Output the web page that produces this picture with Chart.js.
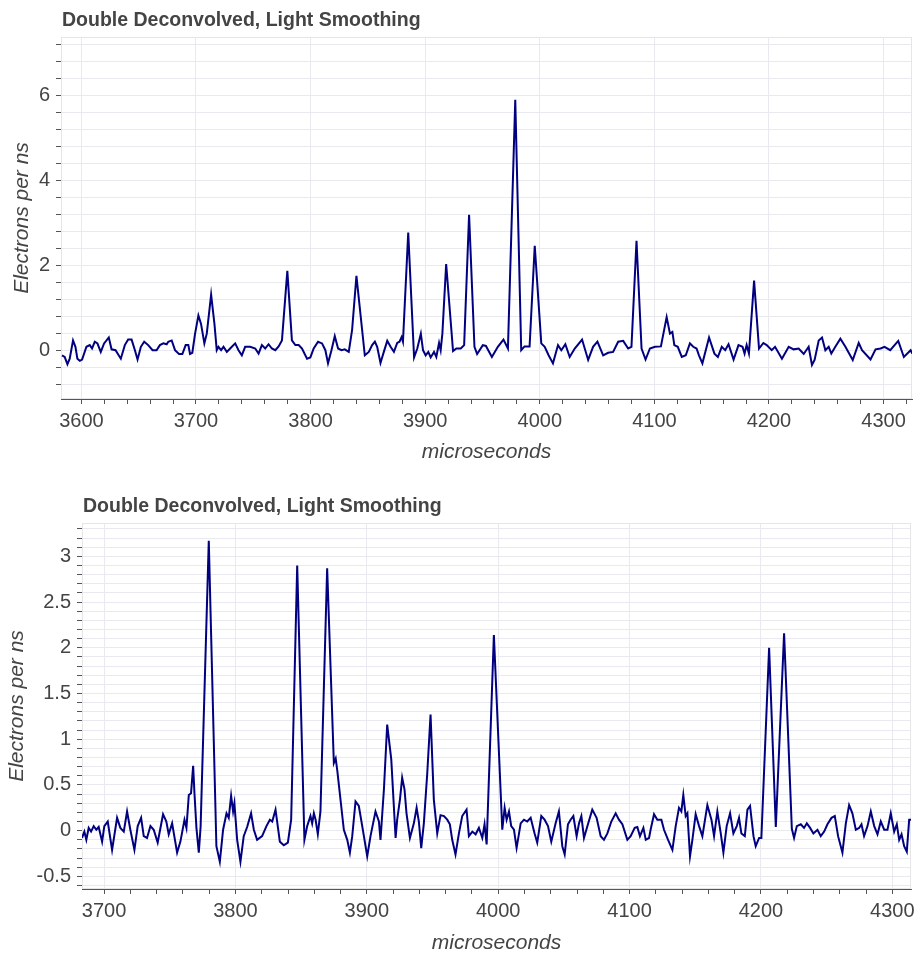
<!DOCTYPE html>
<html>
<head>
<meta charset="utf-8">
<script src="https://cdn.jsdelivr.net/npm/chart.js@4.4.1/dist/chart.umd.min.js"></script>
<style>
  html, body { margin: 0; padding: 0; background: #ffffff; }
  #c1 { position: absolute; left: 0; top: 0; }
  #c2 { position: absolute; left: 0; top: 480px; }
</style>
</head>
<body>
<canvas id="c1" width="923" height="470"></canvas>
<canvas id="c2" width="923" height="479"></canvas>
<script>
// ---------------- data ----------------
const chartTitle = "Double Deconvolved, Light Smoothing";
const xAxisTitle = "microseconds";
const yAxisTitle = "Electrons per ns";

// top panel: [microseconds, electrons per ns]
const topSeries = [
  [3583.1,-0.12],[3585.4,-0.16],[3587.8,-0.33],[3589.8,-0.2],[3592.7,0.23],[3594.8,0.08],[3596.5,-0.2],[3598.6,-0.25],
  [3600.6,-0.22],[3604.4,0.08],[3607.3,0.12],[3609.3,0.04],[3611.7,0.2],[3614,0.16],[3616.9,-0.04],[3619.8,0.16],
  [3623.9,0.3],[3626.3,0.02],[3629.8,0],[3634.4,-0.2],[3637.9,0.12],[3640.8,0.25],[3643.8,0.25],[3646.7,0],
  [3649,-0.22],[3651.9,0.08],[3654.8,0.2],[3658.3,0.12],[3662.1,0],[3665.6,0],[3668.5,0.12],[3671.5,0.16],
  [3674.4,0.14],[3675.8,0.2],[3678.8,0.23],[3681.7,0],[3685.2,-0.09],[3688.1,-0.09],[3691,0.12],[3693.3,0.12],
  [3694.8,-0.09],[3696.8,-0.06],[3699.2,0.39],[3702.1,0.82],[3704.4,0.62],[3707.3,0.16],[3709.4,0.39],[3713.2,1.31],
  [3716.1,0.62],[3718.1,0],[3719.6,0.08],[3721.9,0],[3724,0.08],[3726.9,-0.04],[3729.8,0.04],[3734.2,0.16],
  [3737.1,0],[3740,-0.12],[3742.9,0.08],[3747.3,0.08],[3751.7,0.04],[3754.6,-0.08],[3757.5,0.12],[3760.4,0.04],
  [3763.3,0.14],[3766.2,0.04],[3769.2,0],[3772.1,0.09],[3775,0.23],[3779.7,1.87],[3783.7,0.23],[3786.7,0.12],
  [3789.6,0.12],[3792.5,0.04],[3796.9,-0.2],[3799.8,-0.17],[3802.7,0.04],[3806.5,0.2],[3810,0.16],[3812.9,0],
  [3815.2,-0.31],[3818.2,0],[3821.1,0.33],[3824,0.04],[3826.9,0],[3829.8,0.02],[3833.3,-0.04],[3836.2,0.47],
  [3840,1.75],[3845,0.47],[3847.3,-0.12],[3850.8,-0.04],[3853.7,0.12],[3856.1,0.2],[3858.1,0.08],[3861,-0.3],
  [3863.9,-0.04],[3866.9,0.22],[3869.8,0.08],[3872.7,-0.04],[3875.6,0.17],[3877.6,0.2],[3879.4,0.31],[3880.6,0.2],
  [3885.2,2.77],[3890.3,-0.17],[3893.1,0.04],[3896.2,0.39],[3898.1,0],[3900.4,-0.12],[3902.7,-0.04],[3904.8,-0.17],
  [3907.7,-0.04],[3909.7,-0.16],[3912.1,0.17],[3913.5,0],[3915,0.39],[3918.3,2.03],[3924.3,-0.02],[3927.2,0.04],
  [3931,0.04],[3934,0.12],[3938.3,3.19],[3943,0.08],[3945.3,-0.09],[3950.3,0.12],[3953,0.1],[3958.2,-0.16],
  [3963.4,0.08],[3968.3,0.25],[3972.2,0.04],[3978.6,5.9],[3983.8,0],[3986.7,0.09],[3991.1,0.09],[3995.6,2.46],
  [4001.3,0.16],[4004.3,0.08],[4007.7,-0.12],[4011.5,-0.31],[4015.9,0.12],[4018.8,0],[4022.3,0.14],[4026.1,-0.16],
  [4030.5,0.04],[4036.9,0.25],[4042.2,-0.23],[4046.5,0.08],[4050.3,0.2],[4055.3,-0.12],[4059.6,-0.06],[4064,-0.04],
  [4068.4,0.2],[4072.8,0.22],[4077.1,0.04],[4080,0.08],[4084.4,2.58],[4088.8,0.04],[4092.3,-0.22],[4096.1,0.04],
  [4100.5,0.08],[4105.7,0.09],[4110.7,0.78],[4113.6,0.39],[4115.7,0.43],[4117.4,0.12],[4120.4,0.08],[4123.9,-0.16],
  [4127.4,-0.12],[4131,0.16],[4133.9,0.08],[4136.8,0.04],[4138.9,-0.12],[4141.9,-0.31],[4147.7,0.3],[4152.4,-0.08],
  [4155.4,-0.16],[4158.8,0.08],[4161.8,0],[4164.7,0.14],[4169.1,-0.22],[4173.4,0.12],[4176.9,0.08],[4178.7,-0.08],
  [4180.5,0.12],[4182.5,-0.08],[4187,1.64],[4191.3,0.04],[4195.1,0.17],[4198,0.12],[4202.4,0],[4205.3,0.08],
  [4211.3,-0.2],[4217.2,0.08],[4221.5,0.02],[4225.9,0.04],[4230.3,-0.09],[4234.6,0.08],[4237.5,-0.35],[4239.8,-0.23],
  [4243.4,0.23],[4246.3,0.3],[4249.2,0],[4252.1,0.08],[4254.4,-0.08],[4257.9,0.08],[4262.3,0.27],[4266.7,0.08],
  [4273.1,-0.23],[4278.3,0.17],[4281.2,0],[4288.6,-0.22],[4293,0.02],[4297.4,0.04],[4300.8,0.08],[4305.8,0],
  [4312.8,0.22],[4317.7,-0.16],[4323.6,0],[4325,-0.08]
];

// bottom panel: [microseconds, electrons per ns]
const bottomSeries = [
  [3683.2,-0.08],[3685,-0.01],[3686.5,-0.1],[3688.3,0.03],[3690.1,-0.01],[3692.1,0.05],[3694.1,0.01],[3695.9,0.04],
  [3698.5,-0.12],[3700.2,0.05],[3702.8,0.1],[3706.1,-0.21],[3709.9,0.14],[3712.4,0.03],[3715,-0.01],[3717.5,0.21],
  [3720,0.01],[3723.1,-0.21],[3725.6,0.05],[3728.2,0.14],[3730.2,-0.06],[3732.7,-0.08],[3735.3,0.05],[3737.8,0.01],
  [3740.8,-0.13],[3744.9,0.18],[3747.4,0.1],[3749.2,-0.04],[3751.8,0.08],[3755.6,-0.24],[3758.1,-0.12],[3761.2,0.12],
  [3762.7,0.03],[3764.5,0.39],[3766.2,0.41],[3767.8,0.71],[3768.8,0.41],[3770.3,0.03],[3772.1,-0.24],[3773.5,0.05],
  [3779.7,3.17],[3785.5,-0.17],[3788.1,-0.34],[3790.6,0.01],[3793.2,0.19],[3794.9,0.14],[3796.7,0.38],[3798.2,0.21],
  [3799.2,0.3],[3801.3,-0.1],[3803.8,-0.34],[3806.3,-0.06],[3808.9,0.04],[3811.9,0.19],[3814,0.01],[3816.5,-0.1],
  [3820.3,-0.06],[3823.6,0.05],[3826.2,0.12],[3828,0.1],[3830.5,0.23],[3833.8,-0.12],[3836.8,-0.16],[3839.9,-0.13],
  [3842.4,0.12],[3847,2.9],[3852.5,-0.1],[3854.6,0.05],[3857.1,0.16],[3858.4,0.08],[3859.7,0.19],[3861,0.12],
  [3862.7,-0.04],[3864.7,0.21],[3869.8,2.87],[3874.9,0.74],[3876.3,0.79],[3877.5,0.66],[3882.5,0.01],[3885.1,-0.1],
  [3887.1,-0.24],[3888.9,-0.06],[3891.4,0.32],[3893.9,0.27],[3896.5,0.05],[3900.3,-0.28],[3902.8,-0.06],[3906.6,0.21],
  [3909.2,0.1],[3910.4,-0.1],[3913,0.45],[3915.5,1.16],[3918.6,0.78],[3921.9,-0.08],[3923.1,0.12],[3925.2,0.34],
  [3926.9,0.58],[3928.7,0.45],[3930.2,0.19],[3932.8,-0.08],[3935.8,0.08],[3937.9,0.25],[3939.6,0.1],[3941.4,-0.19],
  [3943.4,0.08],[3946,0.63],[3948.5,1.27],[3951,0.34],[3953.6,-0.03],[3956.1,0.17],[3958.7,0.16],[3961.2,0.12],
  [3963.2,0.07],[3965,-0.1],[3967.5,-0.26],[3970.1,-0.03],[3972.6,0.16],[3975.9,0.23],[3977.7,-0.06],[3980.3,-0.01],
  [3982.8,-0.04],[3985.3,0.03],[3987.9,-0.08],[3989.6,0.07],[3991.2,-0.15],[3996.7,2.14],[4003.1,0.01],[4004.9,0.25],
  [4006.4,0.12],[4008.2,0.21],[4009.9,0.05],[4012,0.01],[4014,-0.19],[4017.1,0.08],[4019.6,0.12],[4022.1,0.1],
  [4024.7,0.14],[4027.7,-0.03],[4029.7,-0.13],[4032.8,0.16],[4035.3,0.12],[4037.9,0.05],[4040.4,-0.12],[4043.7,0.08],
  [4046.2,0.21],[4048.8,-0.17],[4050.6,-0.26],[4053.1,0.07],[4055.1,0.12],[4057.2,0.16],[4059.7,-0.06],[4061.5,0.08],
  [4063.3,0.16],[4065.3,-0.08],[4068.3,0.07],[4071.6,0.23],[4074.9,0.14],[4078,-0.06],[4080.5,-0.1],[4083.1,-0.03],
  [4086.1,0.1],[4089.4,0.19],[4091.9,0.12],[4094.5,0.07],[4098.3,-0.1],[4100.8,-0.06],[4103.9,0.03],[4105.9,0.04],
  [4107.9,-0.06],[4110.5,0.03],[4112.3,-0.1],[4114.8,-0.08],[4116,0.01],[4118.6,0.18],[4121.1,0.12],[4124.2,0.12],
  [4126.2,0.01],[4129.3,-0.1],[4132.6,-0.21],[4135.1,0.05],[4137.6,0.25],[4139.4,0.21],[4140.9,0.39],[4142.7,0.16],
  [4144,0.19],[4146,-0.28],[4147.8,-0.1],[4150.3,0.18],[4152.9,0.05],[4155.4,-0.06],[4159.2,0.28],[4162.3,0.12],
  [4164.3,-0.06],[4166.8,0.21],[4169.4,-0.03],[4171.4,-0.24],[4173.9,0.05],[4176.5,0.19],[4179,-0.03],[4181.6,0.05],
  [4183.3,0.14],[4185.1,-0.03],[4187.7,-0.06],[4189.7,0.23],[4191.7,0.27],[4194.3,-0.06],[4196,-0.17],[4198.6,-0.08],
  [4200.3,-0.08],[4206.2,2.0],[4211.3,0.04],[4217.6,2.16],[4223.5,0.02],[4225.2,-0.08],[4227.3,0.05],[4230.3,0.07],
  [4232.8,0.03],[4234.9,0.08],[4237.4,0.03],[4239.9,-0.03],[4243,0.01],[4245.5,-0.06],[4248.1,-0.01],[4250.6,0.07],
  [4253.7,0.14],[4256.2,0.16],[4258.7,-0.06],[4262,-0.24],[4264.6,0.08],[4267.1,0.28],[4269.6,0.19],[4272.2,0.01],
  [4274.7,0.03],[4276.5,0.07],[4278.5,-0.06],[4281.1,0.05],[4283.6,0.21],[4286.2,0.05],[4288.7,-0.04],[4291.2,0.1],
  [4293.8,0.01],[4296.3,0.01],[4298.8,0.19],[4301.4,-0.01],[4303.4,0.07],[4305.2,-0.1],[4307,-0.04],[4309,-0.17],
  [4311,-0.23],[4312.8,0.12],[4314.3,0.12]
];

// axis ranges and tick labels
const topXRange = [3582.2, 4324.8];
const topYRange = [-1.15, 7.38];
const topXLabels = [3600, 3700, 3800, 3900, 4000, 4100, 4200, 4300];
const topYLabels = [0, 2, 4, 6];
const topXMinorStep = 20;
const topYMinorStep = 0.4;

const bottomXRange = [3683.2, 4314.2];
const bottomYRange = [-0.638, 3.365];
const bottomXLabels = [3700, 3800, 3900, 4000, 4100, 4200, 4300];
const bottomYLabels = [-0.5, 0, 0.5, 1, 1.5, 2, 2.5, 3];
const bottomXMinorStep = 20;
const bottomYMinorStep = 0.1;

// ---------------- styling ----------------
const FONT = "'Liberation Sans', Arial, Helvetica, sans-serif";
const TEXT = '#444444';
const GRID = '#e9e9f0';
const AXIS = '#555555';

function minorTicks(range, step) {
  const out = [];
  const k0 = Math.ceil(range[0] / step - 1e-9);
  const k1 = Math.floor(range[1] / step + 1e-9);
  for (let k = k0; k <= k1; k++) out.push(Math.round(k * step * 10000) / 10000);
  return out;
}
function isLabel(v, labels) {
  return labels.some(l => Math.abs(l - v) < 1e-6);
}

const titlePlugin = {
  id: 'panelTitle',
  afterDraw(chart, args, opts) {
    const ctx = chart.ctx;
    ctx.save();
    ctx.font = 'bold 19.5px ' + FONT;
    ctx.fillStyle = TEXT;
    ctx.textAlign = 'left';
    ctx.textBaseline = 'middle';
    ctx.fillText(opts.text, chart.chartArea.left + 1, chart.chartArea.top - opts.gap);
    ctx.restore();
  }
};
const outlinePlugin = {
  id: 'outline',
  beforeDatasetsDraw(chart) {
    const {ctx, chartArea: a} = chart;
    ctx.save();
    ctx.strokeStyle = '#e6e6e6';
    ctx.lineWidth = 1;
    ctx.strokeRect(a.left + 0.5, a.top + 0.5, a.right - a.left - 1, a.bottom - a.top - 1);
    ctx.restore();
  }
};

function makeChart(canvasId, series, cfg) {
  const xTicks = minorTicks(cfg.xRange, cfg.xStep);
  const yTicks = minorTicks(cfg.yRange, cfg.yStep);
  return new Chart(document.getElementById(canvasId), {
    type: 'line',
    data: {
      datasets: [{
        data: series.map(p => ({x: p[0], y: p[1]})),
        borderColor: '#000080',
        borderWidth: 2,
        pointRadius: 0,
        tension: 0,
        fill: false
      }]
    },
    options: {
      responsive: false,
      animation: false,
      devicePixelRatio: 1,
      layout: { padding: { top: cfg.padTop, right: cfg.padRight, left: 0, bottom: 0 } },
      plugins: {
        legend: { display: false },
        tooltip: { enabled: false },
        panelTitle: { text: chartTitle, gap: 16 }
      },
      scales: {
        x: {
          type: 'linear',
          min: cfg.xRange[0],
          max: cfg.xRange[1],
          afterBuildTicks: s => { s.ticks = xTicks.map(v => ({value: v})); },
          afterFit: s => { s.height = cfg.xHeight; },
          ticks: {
            autoSkip: false, maxRotation: 0, minRotation: 0,
            callback: v => isLabel(v, cfg.xLabels) ? String(v) : '',
            color: TEXT, font: { family: FONT, size: 20 }, padding: 5
          },
          grid: {
            color: c => (c.tick && isLabel(c.tick.value, cfg.xLabels)) ? GRID : 'rgba(0,0,0,0)',
            tickColor: AXIS, tickLength: 5, lineWidth: 1
          },
          border: { color: AXIS, width: 1 },
          title: {
            display: true, text: xAxisTitle, color: TEXT,
            font: { family: FONT, size: 21, style: 'italic' },
            padding: { top: 0, bottom: cfg.xTitlePad }
          }
        },
        y: {
          type: 'linear',
          min: cfg.yRange[0],
          max: cfg.yRange[1],
          afterBuildTicks: s => { s.ticks = yTicks.map(v => ({value: v})); },
          afterFit: s => { s.width = cfg.yWidth; },
          ticks: {
            autoSkip: false,
            callback: v => isLabel(v, cfg.yLabels) ? String(v) : '',
            color: TEXT, font: { family: FONT, size: 20 }, padding: 6
          },
          grid: { color: GRID, tickColor: AXIS, tickLength: 5, lineWidth: 1 },
          border: { color: AXIS, width: 1 },
          title: {
            display: true, text: yAxisTitle, color: TEXT,
            font: { family: FONT, size: 21, style: 'italic' },
            padding: { top: cfg.yTitlePad, bottom: 0 }
          }
        }
      }
    },
    plugins: [titlePlugin, outlinePlugin]
  });
}

makeChart('c1', topSeries, {
  xRange: topXRange, yRange: topYRange, xStep: topXMinorStep, yStep: topYMinorStep,
  xLabels: topXLabels, yLabels: topYLabels,
  padTop: 37, padRight: 11, yWidth: 61, xHeight: 71, xTitlePad: 5, yTitlePad: 10
});
makeChart('c2', bottomSeries, {
  xRange: bottomXRange, yRange: bottomYRange, xStep: bottomXMinorStep, yStep: bottomYMinorStep,
  xLabels: bottomXLabels, yLabels: bottomYLabels,
  padTop: 43, padRight: 12, yWidth: 82, xHeight: 70, xTitlePad: 3.4, yTitlePad: 4.4
});
</script>
</body>
</html>
